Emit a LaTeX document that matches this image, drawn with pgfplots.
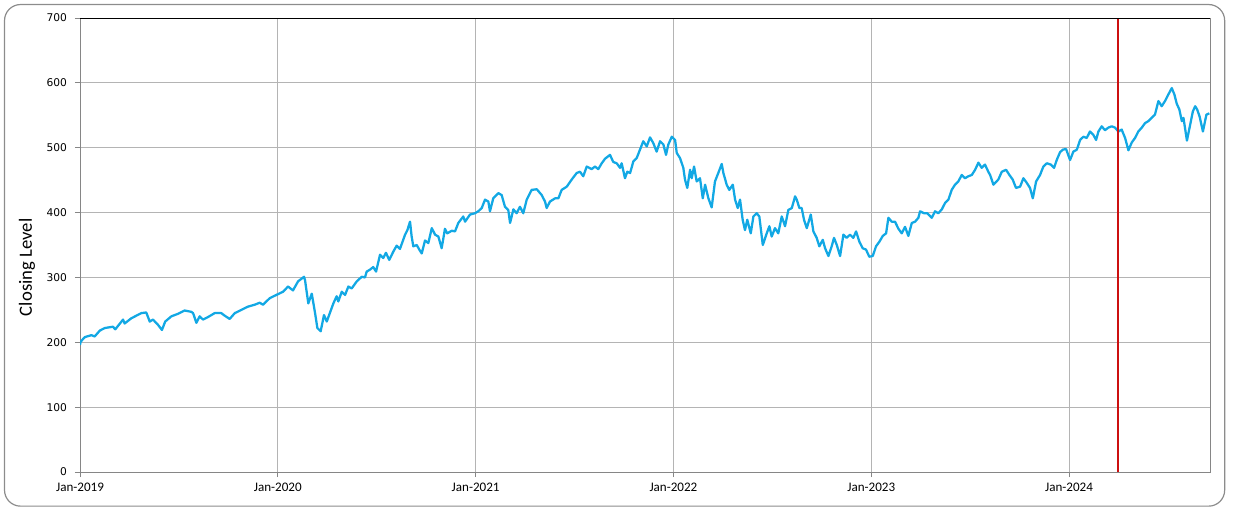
\documentclass[border=0pt]{standalone}
\usepackage{pgfplots}
\pgfplotsset{compat=1.18}
\usepackage{fontspec}
\setmainfont{Carlito}
\newfontfamily\dejavu{DejaVu Sans}
\definecolor{linecol}{RGB}{18,168,228}
\definecolor{redline}{RGB}{204,16,16}
\definecolor{gridc}{RGB}{180,180,180}
\definecolor{axc}{RGB}{134,134,134}
\definecolor{borderc}{RGB}{140,140,140}
\begin{document}
\begin{tikzpicture}
\path[use as bounding box] (0,0) rectangle (929.25pt,-384pt);
\draw[borderc, line width=0.9pt, rounded corners=12pt] (3.4pt,-3.4pt) rectangle (918.5pt,-379.6pt);
\begin{axis}[
  at={(60pt,-354pt)}, anchor=south west, scale only axis,
  width=847.5pt, height=340.5pt,
  xmin=0, xmax=68.55, ymin=0, ymax=700,
  xtick={0,12,24,36,48,60},
  xticklabels={Jan-2019,Jan-2020,Jan-2021,Jan-2022,Jan-2023,Jan-2024},
  ytick={0,100,...,700},
  grid=major, major grid style={gridc, line width=0.75pt},
  axis line style={axc, line width=0.75pt},
  tick align=outside, major tick length=3.75pt,
  tick style={axc, line width=0.75pt},
  xtick pos=left, ytick pos=left,
  xticklabel style={font=\fontsize{9.8}{11}\selectfont, yshift=-1.2pt},
  yticklabel style={font=\dejavu\fontsize{8}{9}\selectfont, xshift=-2.5pt},
  /pgf/number format/assume math mode=true,
  clip=true,
]
\addplot[linecol, line width=1.7pt, line join=round] coordinates {
(0,196) (0.04,201) (0.29,208) (0.69,211) (0.89,209) (1.20,218) (1.50,222) (2.00,224) (2.14,220)
(2.61,235) (2.71,229) (3.11,237) (3.72,245) (4.02,246) (4.23,232) (4.43,235) (4.73,227) (4.97,219)
(5.17,232) (5.54,240) (5.95,244) (6.35,249) (6.75,247) (6.86,245) (7.06,230) (7.26,240) (7.46,235)
(7.77,239) (8.17,245) (8.57,245) (8.78,241) (9.08,236) (9.39,245) (9.79,250) (10.19,255) (10.60,258)
(10.90,261) (11.10,258) (11.51,268) (11.91,273) (12.32,278) (12.62,286) (12.92,280) (13.23,294)
(13.59,301) (13.65,296) (13.85,260) (14.06,275) (14.26,245) (14.40,222) (14.60,217) (14.80,242)
(14.97,232) (15.37,260) (15.57,271) (15.67,263) (15.88,278) (16.08,273) (16.28,286) (16.48,283)
(16.79,294) (17.09,301) (17.29,300) (17.39,309) (17.59,312) (17.79,316) (17.96,309) (18.20,335)
(18.40,330) (18.56,338) (18.76,327) (19.01,340) (19.21,349) (19.41,344) (19.72,366) (19.86,373)
(20.02,386) (20.12,363) (20.22,348) (20.43,350) (20.58,343) (20.73,337) (20.93,357) (21.13,353)
(21.34,376) (21.54,366) (21.74,363) (21.94,345) (22.14,375) (22.28,368) (22.55,372) (22.75,371)
(22.95,384) (23.25,394) (23.36,386) (23.66,397) (23.96,399) (24.16,402) (24.37,407) (24.57,420)
(24.77,417) (24.87,402) (25.07,422) (25.38,430) (25.58,427) (25.78,409) (25.98,404) (26.09,384)
(26.29,405) (26.49,399) (26.69,409) (26.89,399) (27.10,420) (27.40,435) (27.71,436) (28.01,427)
(28.21,417) (28.31,407) (28.51,417) (28.82,422) (29.02,422) (29.22,435) (29.53,440) (29.83,451)
(30.13,461) (30.33,463) (30.53,456) (30.74,471) (31.04,467) (31.24,471) (31.44,467) (31.65,476)
(31.85,483) (32.15,489) (32.35,478) (32.56,476) (32.76,469) (32.86,476) (33.06,453) (33.20,463)
(33.37,461) (33.57,479) (33.77,484) (33.97,497) (34.17,510) (34.38,502) (34.58,516) (34.78,507)
(34.98,494) (35.19,510) (35.39,505) (35.55,489) (35.69,505) (35.90,517) (36.10,512) (36.20,492)
(36.40,484) (36.60,469) (36.70,451) (36.84,438) (37.01,466) (37.11,453) (37.25,471) (37.41,448)
(37.61,453) (37.78,422) (37.92,443) (38.12,422) (38.32,408) (38.52,448) (38.72,461) (38.93,475)
(39.03,461) (39.23,443) (39.39,435) (39.60,443) (39.74,420) (39.90,407) (40.04,420) (40.20,389)
(40.34,373) (40.48,389) (40.69,368) (40.85,394) (41.05,399) (41.21,394) (41.42,350) (41.66,368)
(41.82,379) (41.96,363) (42.16,376) (42.36,368) (42.57,394) (42.77,379) (42.97,404) (43.18,407)
(43.38,425) (43.48,420) (43.64,407) (43.78,407) (43.92,389) (44.09,376) (44.33,397) (44.49,371)
(44.69,361) (44.85,348) (45.06,358) (45.20,345) (45.40,333) (45.60,348) (45.74,361) (45.91,350)
(46.11,333) (46.31,366) (46.51,361) (46.71,366) (46.91,361) (47.08,371) (47.28,355) (47.48,345)
(47.68,343) (47.88,332) (48.09,333) (48.29,348) (48.49,355) (48.70,364) (48.90,368) (49.04,392)
(49.24,386) (49.44,386) (49.65,375) (49.85,368) (50.05,378) (50.25,364) (50.46,384) (50.66,386)
(50.86,392) (50.96,402) (51.20,399) (51.40,399) (51.67,392) (51.87,402) (52.07,399) (52.28,405)
(52.48,415) (52.68,420) (52.88,435) (53.08,443) (53.28,448) (53.49,458) (53.69,453) (53.89,456)
(54.10,458) (54.30,466) (54.50,477) (54.70,469) (54.90,474) (55.10,463) (55.21,458) (55.41,443)
(55.71,451) (55.92,463) (56.18,466) (56.38,458) (56.58,451) (56.78,438) (57.03,440) (57.23,453)
(57.43,446) (57.63,438) (57.80,422) (58.00,448) (58.24,458) (58.44,471) (58.65,476) (58.89,474)
(59.09,469) (59.25,481) (59.45,493) (59.62,497) (59.82,498) (60.06,481) (60.26,494) (60.47,497)
(60.67,512) (60.87,517) (61.07,515) (61.27,525) (61.47,520) (61.64,512) (61.78,525) (61.98,533)
(62.18,527) (62.38,531) (62.59,533) (62.79,531) (62.99,525) (63.19,528) (63.40,515) (63.60,496)
(63.80,508) (64.00,515) (64.20,525) (64.41,531) (64.61,538) (64.81,541) (65.01,546) (65.21,551)
(65.42,572) (65.62,564) (65.82,572) (66.02,582) (66.23,592) (66.39,582) (66.53,568) (66.69,559)
(66.84,541) (66.94,546) (67.15,511) (67.31,531) (67.51,556) (67.65,564) (67.77,559) (67.92,548)
(68.12,525) (68.33,551) (68.51,553)
};
\addplot[redline, line width=1.5pt] coordinates {(62.94,0) (62.94,700)};
\draw[black, line width=1.1pt] (rel axis cs:0,1) -- (rel axis cs:1,1);
\end{axis}
\node[rotate=90, font=\fontsize{14}{16}\selectfont] at (20.25pt,-200.5pt) {Closing Level};
\end{tikzpicture}
\end{document}
